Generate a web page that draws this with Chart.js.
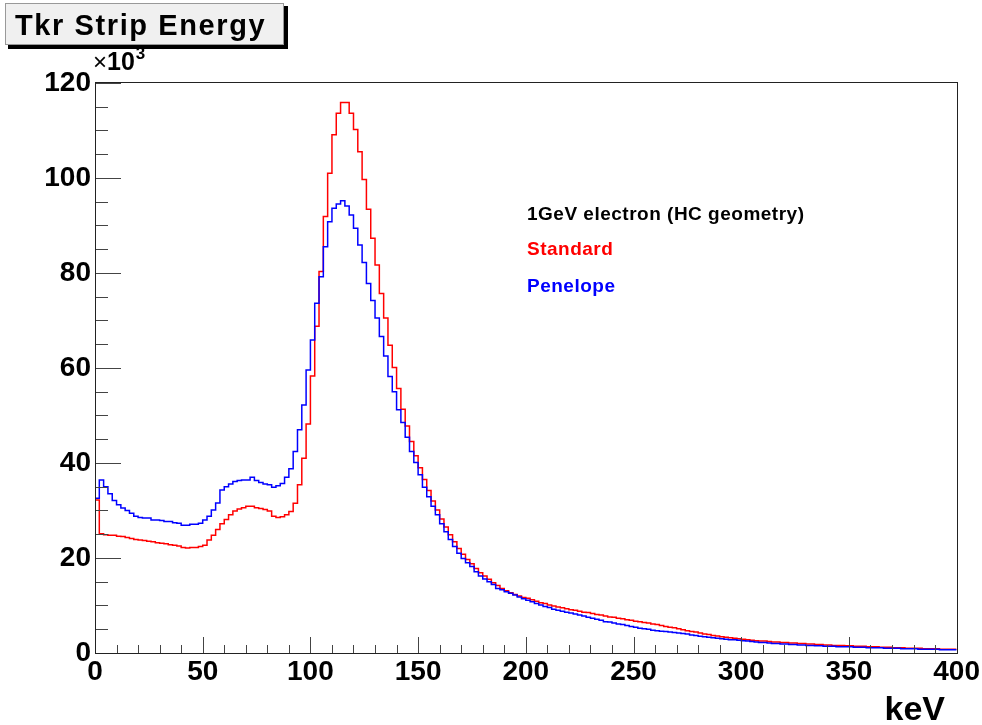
<!DOCTYPE html>
<html>
<head>
<meta charset="utf-8">
<script src="https://cdn.jsdelivr.net/npm/chart.js@4"></script>
<style>
  html, body { margin: 0; padding: 0; background: #fff; }
  canvas { display: block; }
</style>
</head>
<body>
<canvas id="chart" width="982" height="725"></canvas>
<script>
// Tkr strip energy deposit, 2 keV bins from 0 to 400 keV, counts in units of 10^3
const binWidth = 2;
const xTicks = [0, 50, 100, 150, 200, 250, 300, 350, 400];
const yTicks = [0, 20, 40, 60, 80, 100, 120];

const standardCounts = [
  32.2, 25.1, 24.9, 24.8, 24.8, 24.6, 24.5, 24.3, 24.1, 23.9,
  23.8, 23.7, 23.5, 23.4, 23.2, 23.1, 23.0, 22.8, 22.7, 22.5,
  22.2, 22.1, 22.2, 22.2, 22.4, 22.7, 23.8, 24.8, 26.0, 27.2,
  28.1, 29.1, 29.9, 30.3, 30.6, 30.9, 30.9, 30.6, 30.4, 30.2,
  29.9, 28.8, 28.5, 28.7, 29.1, 29.8, 31.5, 35.4, 41.0, 48.2,
  58.3, 68.8, 80.3, 91.9, 101.0, 109.1, 113.6, 115.9, 115.9, 113.6,
  110.2, 105.5, 99.7, 93.4, 87.3, 81.7, 75.7, 70.5, 64.8, 60.1,
  55.7, 51.3, 47.8, 44.5, 41.5, 39.0, 36.5, 34.2, 32.0, 30.1,
  28.2, 26.5, 24.9, 23.4, 22.0, 20.8, 19.7, 18.8, 17.8, 16.9,
  16.2, 15.5, 14.8, 14.2, 13.6, 13.1, 12.7, 12.3, 12.0, 11.7,
  11.5, 11.2, 10.9, 10.6, 10.4, 10.1, 9.9, 9.7, 9.5, 9.3,
  9.1, 9.0, 8.8, 8.6, 8.5, 8.3, 8.1, 8.0, 7.8, 7.6,
  7.5, 7.3, 7.2, 7.0, 6.9, 6.7, 6.6, 6.4, 6.3, 6.1,
  6.0, 5.8, 5.6, 5.4, 5.3, 5.1, 4.9, 4.7, 4.5, 4.4,
  4.2, 4.0, 3.9, 3.7, 3.6, 3.4, 3.3, 3.2, 3.1, 3.0,
  2.9, 2.8, 2.7, 2.6, 2.5, 2.5, 2.4, 2.3, 2.3, 2.2,
  2.2, 2.1, 2.1, 2.0, 2.0, 1.9, 1.9, 1.8, 1.8, 1.7,
  1.7, 1.6, 1.6, 1.6, 1.5, 1.5, 1.4, 1.4, 1.4, 1.3,
  1.3, 1.3, 1.2, 1.2, 1.2, 1.1, 1.1, 1.1, 1.0, 1.0,
  1.0, 1.0, 0.9, 0.9, 0.9, 0.9, 0.8, 0.8, 0.8, 0.8
];

const penelopeCounts = [
  32.6, 36.4, 35.0, 33.5, 32.1, 31.2, 30.5, 30.0, 29.4, 28.8,
  28.5, 28.4, 28.4, 28.0, 28.0, 27.9, 27.7, 27.7, 27.4, 27.3,
  26.9, 26.9, 27.1, 27.1, 27.3, 28.0, 28.8, 30.1, 31.6, 34.3,
  35.0, 35.6, 36.1, 36.3, 36.4, 36.4, 37.0, 36.3, 35.9, 35.6,
  35.4, 34.9, 35.2, 35.7, 37.0, 38.8, 42.4, 47.0, 52.2, 59.6,
  65.9, 73.6, 79.2, 85.5, 90.8, 93.6, 94.5, 95.2, 94.1, 92.2,
  89.4, 85.9, 82.2, 77.8, 74.2, 70.5, 66.6, 62.5, 58.2, 55.0,
  51.2, 48.5, 45.4, 42.4, 40.1, 37.5, 34.9, 32.9, 30.9, 29.1,
  27.2, 25.5, 23.9, 22.4, 21.0, 19.9, 19.0, 18.2, 17.1, 16.2,
  15.6, 15.0, 14.4, 13.6, 13.3, 12.9, 12.6, 12.2, 11.8, 11.4,
  11.1, 10.8, 10.4, 10.1, 9.8, 9.6, 9.2, 9.0, 8.8, 8.6,
  8.4, 8.2, 8.0, 7.8, 7.5, 7.3, 7.1, 6.9, 6.6, 6.5,
  6.3, 6.1, 6.0, 5.8, 5.6, 5.4, 5.2, 5.1, 5.0, 4.8,
  4.7, 4.6, 4.5, 4.4, 4.3, 4.2, 4.1, 4.0, 3.8, 3.7,
  3.5, 3.4, 3.3, 3.2, 3.1, 3.0, 2.9, 2.8, 2.8, 2.7,
  2.6, 2.5, 2.4, 2.3, 2.2, 2.2, 2.1, 2.0, 2.0, 1.9,
  1.9, 1.8, 1.8, 1.7, 1.7, 1.6, 1.6, 1.5, 1.5, 1.4,
  1.4, 1.4, 1.3, 1.3, 1.3, 1.3, 1.2, 1.2, 1.2, 1.1,
  1.1, 1.1, 1.1, 1.0, 1.0, 1.0, 1.0, 0.9, 0.9, 0.9,
  0.9, 0.8, 0.8, 0.8, 0.8, 0.8, 0.7, 0.7, 0.7, 0.7
];

const FONT = '"Liberation Sans", Arial, Helvetica, sans-serif';

// histogram: one point per bin low edge, plus the closing upper edge
function toSteps(counts) {
  const pts = counts.map((v, i) => ({ x: i * binWidth, y: v }));
  pts.push({ x: counts.length * binWidth, y: counts[counts.length - 1] });
  return pts;
}

// ROOT style frame, inward ticks and the text labels
const rootFrame = {
  id: 'rootFrame',
  afterDatasetsDraw(chart) {
    const { ctx, chartArea: a, scales: { x, y } } = chart;
    ctx.save();

    // ticks
    ctx.strokeStyle = '#444';
    ctx.lineWidth = 1;
    ctx.beginPath();
    for (let v = 0; v <= 400; v += 10) {
      const px = Math.round(x.getPixelForValue(v)) + 0.5;
      const len = v % 50 === 0 ? 16 : 8;
      ctx.moveTo(px, a.bottom);
      ctx.lineTo(px, a.bottom - len);
    }
    for (let v = 0; v <= 120; v += 5) {
      const py = Math.round(y.getPixelForValue(v)) + 0.5;
      const len = v % 20 === 0 ? 26 : 13;
      ctx.moveTo(a.left, py);
      ctx.lineTo(a.left + len, py);
    }
    ctx.stroke();

    // frame
    ctx.strokeStyle = '#222';
    ctx.strokeRect(Math.round(a.left) + 0.5, Math.round(a.top) + 0.5,
      Math.round(a.right - a.left), Math.round(a.bottom - a.top));

    // title box with shadow
    ctx.fillStyle = '#000';
    ctx.fillRect(8, 45, 280, 4);
    ctx.fillRect(284, 6, 4, 43);
    ctx.fillStyle = '#f0f0f0';
    ctx.fillRect(5, 3, 279, 42);
    ctx.strokeStyle = '#999';
    ctx.strokeRect(5.5, 3.5, 278, 41);

    ctx.fillStyle = '#000';
    ctx.textBaseline = 'alphabetic';
    ctx.textAlign = 'left';
    ctx.letterSpacing = '1.6px';
    ctx.font = 'bold 29px ' + FONT;
    ctx.fillText('Tkr Strip Energy', 15, 35);

    // exponent label
    ctx.letterSpacing = '0px';
    ctx.font = '24px ' + FONT;
    ctx.fillText('\u00d7', 93, 70);
    const w = ctx.measureText('\u00d7').width;
    ctx.font = 'bold 25px ' + FONT;
    ctx.fillText('10', 93 + w, 70);
    const w2 = ctx.measureText('10').width;
    ctx.font = 'bold 17px ' + FONT;
    ctx.fillText('3', 94 + w + w2, 59);

    // axis title
    ctx.font = 'bold 34px ' + FONT;
    ctx.textAlign = 'right';
    ctx.fillText('keV', 945, 720);

    // in-pad labels
    ctx.textAlign = 'left';
    ctx.letterSpacing = '0.5px';
    ctx.font = 'bold 19px ' + FONT;
    ctx.fillStyle = '#000';
    ctx.fillText('1GeV electron (HC geometry)', 527, 220);
    ctx.fillStyle = '#ff0000';
    ctx.fillText(chart.data.datasets[0].label, 527, 255);
    ctx.fillStyle = '#0000ff';
    ctx.fillText(chart.data.datasets[1].label, 527, 292);
    ctx.restore();
  }
};

new Chart(document.getElementById('chart'), {
  type: 'line',
  data: {
    datasets: [
      {
        label: 'Standard',
        data: toSteps(standardCounts),
        borderColor: '#ff0000',
        borderWidth: 1.5,
        stepped: 'before',
        pointRadius: 0,
        fill: false,
        order: 1
      },
      {
        label: 'Penelope',
        data: toSteps(penelopeCounts),
        borderColor: '#0000ff',
        borderWidth: 1.5,
        stepped: 'before',
        pointRadius: 0,
        fill: false,
        order: 0
      }
    ]
  },
  options: {
    responsive: false,
    devicePixelRatio: 1,
    animation: false,
    layout: { padding: { left: 0, top: 82, right: 24, bottom: 0 } },
    plugins: { legend: { display: false }, tooltip: { enabled: false } },
    scales: {
      x: {
        type: 'linear',
        min: 0,
        max: 400,
        afterBuildTicks: s => { s.ticks = xTicks.map(v => ({ value: v })); },
        afterFit: s => { s.height = 72; },
        ticks: { color: '#000', font: { family: FONT, size: 28, weight: 'bold' }, padding: 2, maxRotation: 0, autoSkip: false },
        grid: { display: false, drawTicks: false },
        border: { display: false }
      },
      y: {
        min: 0,
        max: 120.2,
        afterBuildTicks: s => { s.ticks = yTicks.map(v => ({ value: v })); },
        afterFit: s => { s.width = 95; },
        ticks: { color: '#000', font: { family: FONT, size: 28, weight: 'bold' }, padding: 4 },
        grid: { display: false, drawTicks: false },
        border: { display: false }
      }
    }
  },
  plugins: [rootFrame]
});
</script>
</body>
</html>
